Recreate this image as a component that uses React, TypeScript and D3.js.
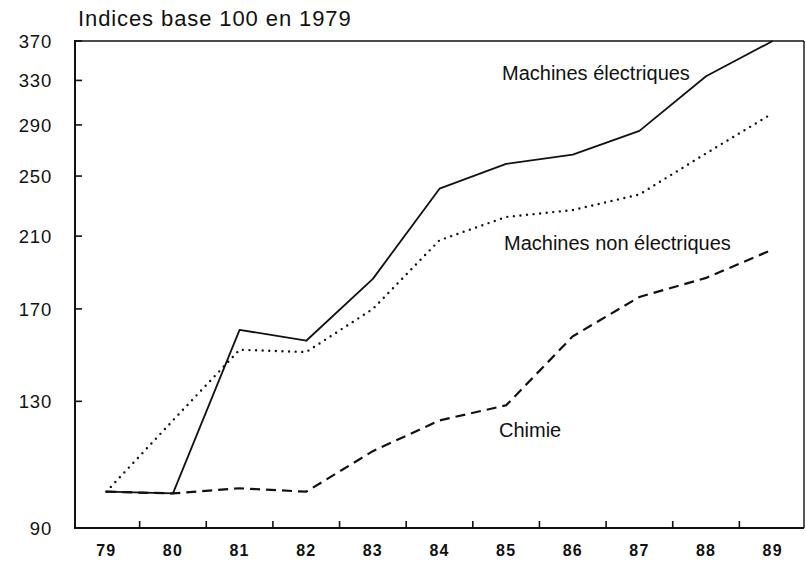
import React from "react";
import * as d3 from "d3";

const years = ["79", "80", "81", "82", "83", "84", "85", "86", "87", "88", "89"];
const machinesElectriques = [100, 99.5, 160, 155, 185.5, 241, 259, 266, 285, 334, 370];
const machinesNonElectriques = [100, 123, 151, 150, 170, 207.5, 222, 226.5, 237, 267, 300];
const chimie = [100, 99.5, 101, 100, 112.5, 123, 128.5, 157, 176, 186, 202];
const yTicks = [90, 130, 170, 210, 250, 290, 330, 370];
const title = "Indices base 100 en 1979";
const labels = ["Machines électriques", "Machines non électriques", "Chimie"];

const W = 806;
const H = 566;
const left = 75;
const right = 804;
const top = 41;
const bottom = 528;
const font = "'Liberation Sans', Arial, Helvetica, sans-serif";

export default function App() {
  const x = d3.scaleBand<string>().domain(years).range([73, 806]);
  const y = d3.scaleLog().domain([90, 370]).range([bottom, top]);
  const cx = (yr: string) => (x(yr) as number) + x.bandwidth() / 2;

  const line = d3
    .line<number>()
    .x((_, i) => cx(years[i]))
    .y((v) => y(v));

  const boundaries = years.slice(1).map((yr) => x(yr) as number);

  const labelPos = [
    { x: 502, y: 80 },
    { x: 504, y: 250 },
    { x: 499, y: 437 },
  ];

  return (
    <svg
      width={W}
      height={H}
      style={{ position: "absolute", left: 0, top: 0, display: "block", background: "#fff" }}
      fontFamily={font}
    >
      <rect x={0} y={0} width={W} height={H} fill="#fff" />
      <text x={78} y={26} fontSize={22} letterSpacing={0.9} fill="#111">
        {title}
      </text>

      {/* frame */}
      <line x1={left} y1={top} x2={right} y2={top} stroke="#111" strokeWidth={1.6} />
      <line x1={right} y1={top} x2={right} y2={bottom} stroke="#111" strokeWidth={1.4} />
      <line x1={left} y1={top - 1} x2={left} y2={bottom + 1} stroke="#111" strokeWidth={2} />
      <line x1={left - 1} y1={bottom} x2={right} y2={bottom} stroke="#111" strokeWidth={2} />

      {/* y ticks */}
      {yTicks.map((t) => (
        <g key={t}>
          <line x1={left} x2={left + 7} y1={y(t)} y2={y(t)} stroke="#111" strokeWidth={1.6} />
          <text
            x={52}
            y={y(t)}
            dy="0.36em"
            textAnchor="end"
            fontSize={18.5}
            letterSpacing={0.8}
            fill="#111"
          >
            {t}
          </text>
        </g>
      ))}

      {/* x ticks */}
      {boundaries.map((b, i) => (
        <line key={i} x1={b} x2={b} y1={bottom} y2={bottom - 7} stroke="#111" strokeWidth={1.6} />
      ))}
      {years.map((yr) => (
        <text
          key={yr}
          x={cx(yr)}
          y={555.5}
          textAnchor="middle"
          fontSize={16}
          fontWeight="bold"
          letterSpacing={1.2}
          fill="#111"
        >
          {yr}
        </text>
      ))}

      {/* series */}
      <path d={line(machinesElectriques) || ""} fill="none" stroke="#111" strokeWidth={1.8} strokeLinejoin="round" />
      <path
        d={line(machinesNonElectriques) || ""}
        fill="none"
        stroke="#111"
        strokeWidth={2.4}
        strokeDasharray="0 6.6"
        strokeLinecap="round"
      />
      <path
        d={line(chimie) || ""}
        fill="none"
        stroke="#111"
        strokeWidth={2.2}
        strokeDasharray="10 6"
      />

      {labels.map((l, i) => (
        <text key={l} x={labelPos[i].x} y={labelPos[i].y} fontSize={20} fill="#111">
          {l}
        </text>
      ))}
    </svg>
  );
}
